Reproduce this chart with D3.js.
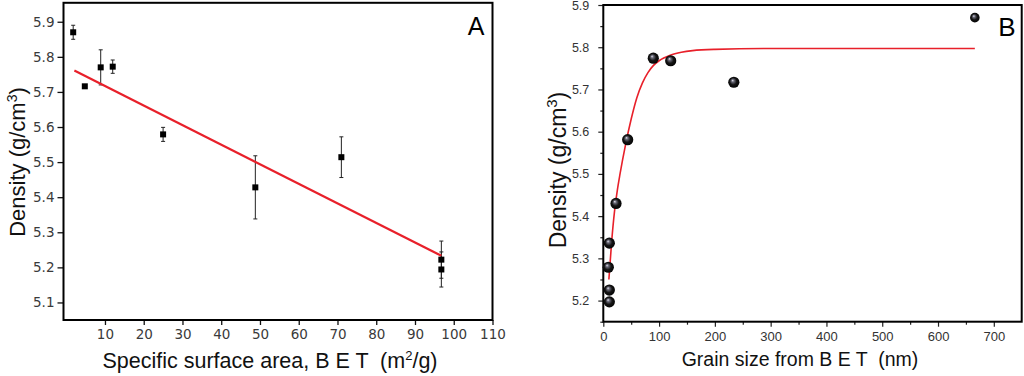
<!DOCTYPE html>
<html>
<head>
<meta charset="utf-8">
<script src="https://cdn.jsdelivr.net/npm/d3@7"></script>
<style>
  html, body { margin: 0; padding: 0; background: #fff; }
  svg { display: block; }
</style>
</head>
<body>
<svg id="chart" width="1024" height="376"></svg>
<script>
// --- Panel A: density vs specific surface area ---
const areaBET = [1.8, 4.8, 8.9, 12.0, 25.0, 48.8, 71.0, 96.8, 96.8];
const densityA = [5.87, 5.716, 5.77, 5.772, 5.579, 5.428, 5.514, 5.222, 5.194];
const errA = [0.02, 0, 0.05, 0.019, 0.02, 0.09, 0.058, 0.053, 0.05];
const fitAX = [2.1, 96.8];
const fitAY = [5.761, 5.233];
const ticksAX = [10, 20, 30, 40, 50, 60, 70, 80, 90, 100, 110];
const ticksAY = [5.1, 5.2, 5.3, 5.4, 5.5, 5.6, 5.7, 5.8, 5.9];

// --- Panel B: density vs grain size ---
const grainSize = [89.6, 120.8, 234, 43.7, 22.8, 10.8, 9, 10.8, 10.8, 666];
const densityB = [5.774, 5.768, 5.717, 5.581, 5.43, 5.336, 5.279, 5.225, 5.197, 5.87];
const fitBX = [10, 15, 20, 25, 30, 40, 50, 60, 70, 80, 90, 100, 120, 140, 160, 200, 300, 666];
const fitBY = [5.25, 5.34, 5.41, 5.46, 5.50, 5.57, 5.63, 5.68, 5.715, 5.74, 5.757, 5.768, 5.781, 5.788, 5.792, 5.795, 5.797, 5.797];
const ticksBX = [0, 100, 200, 300, 400, 500, 600, 700];
const ticksBY = [5.2, 5.3, 5.4, 5.5, 5.6, 5.7, 5.8, 5.9];

const svg = d3.select("#chart");
const red = "#e8202a";

// ================= Panel A =================
const xA = d3.scaleLinear().domain([-0.7, 110]).range([63.5, 492.5]);
const yA = d3.scaleLinear().domain([5.05, 5.954]).range([320, 2.8]);
const gA = svg.append("g");

gA.append("g")
  .attr("transform", `translate(0,${yA.range()[0]})`)
  .call(d3.axisBottom(xA).tickValues(ticksAX).tickSize(5).tickSizeOuter(0).tickPadding(4).tickFormat(d3.format("d")))
  .call(g => g.select(".domain").remove())
  .call(g => g.selectAll("line").attr("stroke", "#111").attr("stroke-width", 1.3))
  .call(g => g.selectAll("text").attr("font-family", "DejaVu Sans").attr("font-size", 13.5).attr("fill", "#3a3a3a"));

gA.append("g")
  .attr("transform", `translate(${xA.range()[0]},0)`)
  .call(d3.axisLeft(yA).tickValues(ticksAY).tickSize(6).tickSizeOuter(0).tickPadding(3).tickFormat(d3.format(".1f")))
  .call(g => g.select(".domain").remove())
  .call(g => g.selectAll("line").attr("stroke", "#111").attr("stroke-width", 1.3))
  .call(g => g.selectAll("text").attr("font-family", "DejaVu Sans").attr("font-size", 13.5).attr("fill", "#3a3a3a"));

gA.append("rect")
  .attr("x", xA.range()[0]).attr("y", yA.range()[1])
  .attr("width", xA.range()[1] - xA.range()[0])
  .attr("height", yA.range()[0] - yA.range()[1])
  .attr("fill", "none").attr("stroke", "#000").attr("stroke-width", 2);

// error bars
const errData = areaBET.map((x, i) => ({ x, y: densityA[i], e: errA[i] })).filter(d => d.e > 0);
const eb = gA.append("g").attr("stroke", "#222").attr("stroke-width", 1);
eb.selectAll(".v").data(errData).join("line")
  .attr("x1", d => xA(d.x)).attr("x2", d => xA(d.x))
  .attr("y1", d => yA(d.y + d.e)).attr("y2", d => yA(d.y - d.e));
eb.selectAll(".t").data(errData).join("line")
  .attr("x1", d => xA(d.x) - 2).attr("x2", d => xA(d.x) + 2)
  .attr("y1", d => yA(d.y + d.e)).attr("y2", d => yA(d.y + d.e));
eb.selectAll(".b").data(errData).join("line")
  .attr("x1", d => xA(d.x) - 2).attr("x2", d => xA(d.x) + 2)
  .attr("y1", d => yA(d.y - d.e)).attr("y2", d => yA(d.y - d.e));

gA.append("path")
  .datum(fitAX.map((x, i) => [x, fitAY[i]]))
  .attr("d", d3.line().x(d => xA(d[0])).y(d => yA(d[1])))
  .attr("fill", "none").attr("stroke", red).attr("stroke-width", 2.2);

gA.selectAll(".sq").data(areaBET.map((x, i) => [x, densityA[i]])).join("rect")
  .attr("x", d => xA(d[0]) - 3).attr("y", d => yA(d[1]) - 3)
  .attr("width", 6).attr("height", 6).attr("fill", "#000");

gA.append("text").attr("x", 476).attr("y", 35).attr("text-anchor", "middle")
  .attr("font-family", "Liberation Sans").attr("font-size", 25).text("A");

const titleA = gA.append("text")
  .attr("transform", "translate(25,162) rotate(-90)")
  .attr("text-anchor", "middle")
  .attr("font-family", "Liberation Sans").attr("font-size", 22).attr("fill", "#111");
titleA.append("tspan").text("Density (g/cm");
titleA.append("tspan").attr("font-size", 14).attr("dy", -8).text("3");
titleA.append("tspan").attr("dy", 8).text(")");

const xtA = gA.append("text")
  .attr("x", 270).attr("y", 368).attr("text-anchor", "middle")
  .attr("font-family", "Liberation Sans").attr("font-size", 21.5).attr("fill", "#111")
  .attr("xml:space", "preserve");
xtA.append("tspan").text("Specific surface area, B E T  (m");
xtA.append("tspan").attr("font-size", 13).attr("dy", -8).text("2");
xtA.append("tspan").attr("dy", 8).text("/g)");

// ================= Panel B =================
const xB = d3.scaleLinear().domain([0, 750]).range([603.3, 1021.7]);
const yB = d3.scaleLinear().domain([5.15, 5.9]).range([321.7, 5]);
const gB = svg.append("g");

const defs = svg.append("defs");
const grad = defs.append("radialGradient").attr("id", "ball")
  .attr("cx", "50%").attr("cy", "50%").attr("r", "55%")
  .attr("fx", "38%").attr("fy", "32%");
grad.append("stop").attr("offset", "0%").attr("stop-color", "#e6e6f0");
grad.append("stop").attr("offset", "22%").attr("stop-color", "#6a6a78");
grad.append("stop").attr("offset", "55%").attr("stop-color", "#151515");
grad.append("stop").attr("offset", "100%").attr("stop-color", "#000");

const minorBX = d3.range(50, 750, 100);
const minorBY = d3.range(5.15, 5.9, 0.1);

gB.append("g")
  .attr("transform", `translate(0,${yB.range()[0]})`)
  .call(d3.axisBottom(xB).tickValues(ticksBX).tickSize(5).tickSizeOuter(0).tickPadding(5).tickFormat(d3.format("d")))
  .call(g => g.select(".domain").remove())
  .call(g => g.selectAll("line").attr("stroke", "#222").attr("stroke-width", 1.2))
  .call(g => g.selectAll("text").attr("font-family", "Liberation Sans").attr("font-size", 13).attr("fill", "#333"));
gB.append("g")
  .attr("transform", `translate(0,${yB.range()[0]})`)
  .call(d3.axisBottom(xB).tickValues(minorBX).tickSize(3).tickSizeOuter(0).tickFormat(""))
  .call(g => g.select(".domain").remove())
  .call(g => g.selectAll("line").attr("stroke", "#222").attr("stroke-width", 1.2));

gB.append("g")
  .attr("transform", `translate(${xB.range()[0]},0)`)
  .call(d3.axisLeft(yB).tickValues(ticksBY).tickSize(5).tickSizeOuter(0).tickPadding(9).tickFormat(d3.format(".1f")))
  .call(g => g.select(".domain").remove())
  .call(g => g.selectAll("line").attr("stroke", "#222").attr("stroke-width", 1.2))
  .call(g => g.selectAll("text").attr("font-family", "Liberation Sans").attr("font-size", 12.5).attr("fill", "#333"));
gB.append("g")
  .attr("transform", `translate(${xB.range()[0]},0)`)
  .call(d3.axisLeft(yB).tickValues(minorBY).tickSize(3).tickSizeOuter(0).tickFormat(""))
  .call(g => g.select(".domain").remove())
  .call(g => g.selectAll("line").attr("stroke", "#222").attr("stroke-width", 1.2));

gB.append("rect")
  .attr("x", xB.range()[0]).attr("y", yB.range()[1])
  .attr("width", xB.range()[1] - xB.range()[0])
  .attr("height", yB.range()[0] - yB.range()[1])
  .attr("fill", "none").attr("stroke", "#000").attr("stroke-width", 2);

gB.append("path")
  .datum(fitBX.map((x, i) => [x, fitBY[i]]))
  .attr("d", d3.line().x(d => xB(d[0])).y(d => yB(d[1])).curve(d3.curveMonotoneX))
  .attr("fill", "none").attr("stroke", red).attr("stroke-width", 1.6);

gB.selectAll(".ball").data(grainSize.map((x, i) => [x, densityB[i]])).join("circle")
  .attr("cx", d => xB(d[0])).attr("cy", d => yB(d[1]))
  .attr("r", (d, i) => i === grainSize.length - 1 ? 4.8 : 5.6)
  .attr("fill", "url(#ball)");

gB.append("text").attr("x", 1007).attr("y", 36).attr("text-anchor", "middle")
  .attr("font-family", "Liberation Sans").attr("font-size", 26).text("B");

const titleB = gB.append("text")
  .attr("transform", "translate(566,170) rotate(-90)")
  .attr("text-anchor", "middle")
  .attr("font-family", "Liberation Sans").attr("font-size", 23).attr("fill", "#111");
titleB.append("tspan").text("Density (g/cm");
titleB.append("tspan").attr("font-size", 15).attr("dy", -9).text("3");
titleB.append("tspan").attr("dy", 9).text(")");

gB.append("text")
  .attr("x", 800).attr("y", 366).attr("text-anchor", "middle")
  .attr("font-family", "Liberation Sans").attr("font-size", 19.5).attr("fill", "#111")
  .attr("xml:space", "preserve")
  .text("Grain size from B E T  (nm)");
</script>
</body>
</html>
